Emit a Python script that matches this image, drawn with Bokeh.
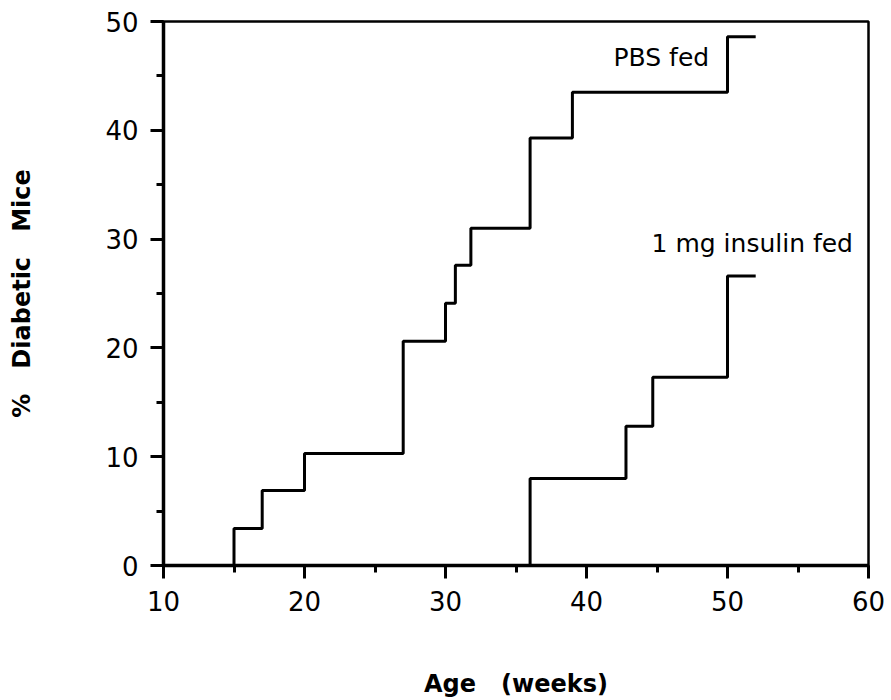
from bokeh.plotting import figure
from bokeh.models import Range1d, SingleIntervalTicker, ColumnDataSource
from bokeh.core.properties import value
from bokeh.embed import file_html
from bokeh.resources import INLINE

# ---- data ----
pbs_weeks = [10, 15, 17, 20, 27, 30, 30.7, 31.8, 36, 39, 50, 52]
pbs_pct = [0, 3.4, 6.9, 10.3, 20.6, 24.1, 27.6, 31.0, 39.3, 43.5, 48.6, 48.6]

insulin_weeks = [10, 36, 42.8, 44.7, 50, 52]
insulin_pct = [0, 8.0, 12.8, 17.3, 26.6, 26.6]

series_labels = ["PBS fed", "1 mg insulin fed"]
label_weeks = [48.7, 58.9]
label_pct = [46.7, 29.6]

x_title = "Age\u00a0\u00a0\u00a0(weeks)"
y_title = "%\u00a0\u00a0\u00a0Diabetic\u00a0\u00a0\u00a0Mice"

FONT = "DejaVu Sans"

p = figure(width=891, height=700, output_backend="svg", toolbar_location=None,
           x_range=Range1d(10, 60), y_range=Range1d(0, 50),
           min_border_left=163, min_border_right=23, min_border_top=21,
           min_border_bottom=135)

p.background_fill_color = "white"
p.border_fill_color = "white"
p.xgrid.visible = False
p.ygrid.visible = False
p.outline_line_color = "black"
p.outline_line_width = 2.5
p.outline_line_alpha = 1.0

p.step(pbs_weeks, pbs_pct, mode="after", line_color="black", line_width=3)
p.step(insulin_weeks, insulin_pct, mode="after", line_color="black", line_width=3)

src = ColumnDataSource(dict(x=label_weeks, y=label_pct, t=series_labels))
p.text(x="x", y="y", text="t", source=src, text_align="right", text_baseline="middle",
       text_font=value(FONT), text_font_size="25px", text_color="black")

for ax in (p.xaxis[0], p.yaxis[0]):
    ax.ticker = SingleIntervalTicker(interval=10, num_minor_ticks=2)
    ax.axis_line_color = "black"
    ax.axis_line_width = 3.5
    ax.major_tick_line_color = "black"
    ax.major_tick_line_width = 3
    ax.minor_tick_line_color = "black"
    ax.minor_tick_line_width = 3
    ax.major_tick_in = 0
    ax.minor_tick_in = 0
    ax.major_tick_out = 13
    ax.minor_tick_out = 7
    ax.major_label_text_font = FONT
    ax.major_label_text_font_size = "26px"
    ax.major_label_text_color = "black"
    ax.axis_label_text_font = FONT
    ax.axis_label_text_font_style = "bold"
    ax.axis_label_text_font_size = "24px"
    ax.axis_label_text_color = "black"

p.xaxis.axis_label = x_title
p.yaxis.axis_label = y_title
p.xaxis.major_label_standoff = 12
p.yaxis.major_label_standoff = 12
p.xaxis.axis_label_standoff = 56
p.yaxis.axis_label_standoff = 66

open("out.html", "w").write(file_html(p, INLINE))
